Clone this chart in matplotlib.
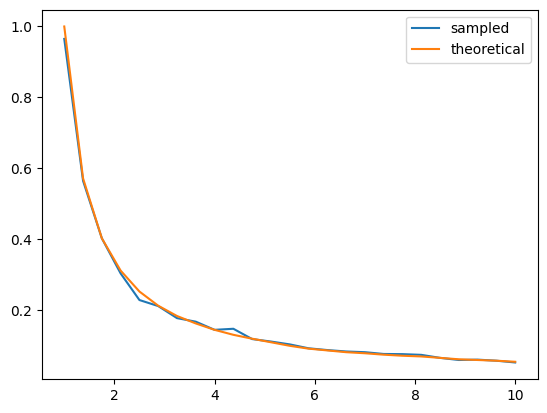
import numpy as np
import matplotlib
matplotlib.use("Agg")
import matplotlib.pyplot as plt

x = [1.0, 1.375, 1.75, 2.125, 2.5, 2.875, 3.25, 3.625, 4.0, 4.375, 4.75,
     5.125, 5.5, 5.875, 6.25, 6.625, 7.0, 7.375, 7.75, 8.125, 8.5, 8.875,
     9.25, 9.625, 10.0]

sampled = [0.965, 0.565, 0.403, 0.304, 0.229, 0.212, 0.178, 0.168, 0.145,
           0.148, 0.119, 0.112, 0.104, 0.093, 0.088, 0.084, 0.082, 0.077,
           0.0765, 0.0745, 0.066, 0.060, 0.061, 0.058, 0.053]

theoretical = [1.0, 0.572, 0.403, 0.312, 0.253, 0.213, 0.184, 0.163, 0.145,
               0.131, 0.120, 0.110, 0.100, 0.092, 0.087, 0.082, 0.079, 0.075,
               0.072, 0.070, 0.066, 0.062, 0.060, 0.058, 0.055]

fig, ax = plt.subplots(figsize=(6.4, 4.8), dpi=100)
ax.plot(x, sampled, label='sampled')
ax.plot(x, theoretical, label='theoretical')
ax.legend()

plt.savefig('out.png', dpi=100, bbox_inches='tight')
plt.close()
